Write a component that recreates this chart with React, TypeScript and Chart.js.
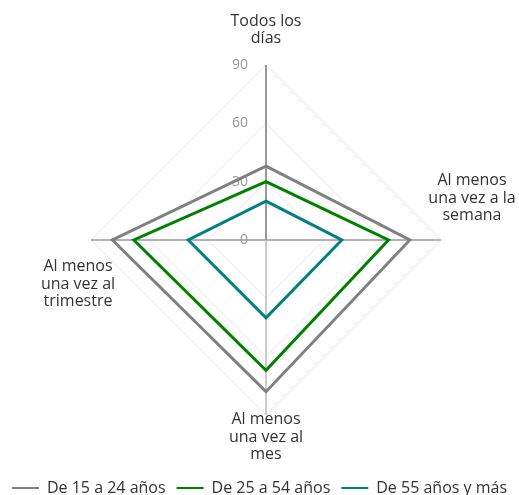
import React, { useEffect, useRef } from "react";
import { Chart, registerables } from "chart.js";

Chart.register(...registerables);

// ---- data ----
const categories: string[][] = [
  ["Todos los", "días"],
  ["Al menos", "una vez a la", "semana"],
  ["Al menos", "una vez al", "mes"],
  ["Al menos", "una vez al", "trimestre"],
];
const seriesNames = ["De 15 a 24 años", "De 25 a 54 años", "De 55 años y más"];
const values15to24 = [38, 74, 78, 79];
const values25to54 = [30, 63, 67, 68];
const values55plus = [20, 39, 40, 40];
const tickValues = [0, 30, 60, 90];

// ---- style ----
const seriesColors = ["#808080", "#008000", "#008080"];
const FONT = '"Open Sans", "DejaVu Sans", sans-serif';
const labelOffsets = [
  { dx: 0, dy: -35 },
  { dx: 31, dy: -42 },
  { dx: 0, dy: 22 },
  { dx: -13, dy: 44 },
];
const labelRoom = { left: 59, right: 45, top: 59, bottom: 47 };

const radarText = {
  id: "radarText",
  beforeDatasetsDraw(chart: any) {
    const r = chart.scales.r;
    const ctx = chart.ctx as CanvasRenderingContext2D;
    ctx.save();
    ctx.font = `14px ${FONT}`;
    ctx.fillStyle = "#999999";
    ctx.textAlign = "right";
    ctx.textBaseline = "middle";
    tickValues.forEach((v) => {
      const d = r.getDistanceFromCenterForValue(v);
      ctx.fillText(String(v), r.xCenter - 18, r.yCenter - d);
    });
    ctx.font = `16px ${FONT}`;
    ctx.fillStyle = "#333333";
    ctx.textAlign = "center";
    const lh = 17.5;
    categories.forEach((lines, i) => {
      const p = r.getPointPosition(i, r.drawingArea);
      const cx = p.x + labelOffsets[i].dx;
      const cy = p.y + labelOffsets[i].dy;
      lines.forEach((t, k) => {
        ctx.fillText(t, cx, cy + (k - (lines.length - 1) / 2) * lh);
      });
    });
    ctx.restore();
  },
};

export default function App() {
  const ref = useRef<HTMLCanvasElement | null>(null);

  useEffect(() => {
    if (!ref.current) return;
    const seriesData = [values15to24, values25to54, values55plus];
    const chart = new Chart(ref.current, {
      type: "radar",
      data: {
        labels: categories.map((c) => c.join(" ")),
        datasets: seriesNames.map((name, i) => ({
          label: name,
          data: seriesData[i],
          borderColor: seriesColors[i],
          backgroundColor: seriesColors[i],
          borderWidth: 3,
          pointRadius: 0,
          pointHoverRadius: 0,
          fill: false,
          tension: 0,
        })),
      },
      options: {
        responsive: false,
        animation: false,
        layout: { padding: { bottom: -11 } },
        plugins: {
          tooltip: { enabled: false },
          legend: {
            position: "bottom",
            labels: {
              usePointStyle: true,
              pointStyle: "line",
              pointStyleWidth: 27,
              padding: 11,
              color: "#333333",
              font: { family: FONT, size: 16 },
              generateLabels: (c: any) =>
                Chart.defaults.plugins.legend.labels
                  .generateLabels(c)
                  .map((l: any) => ({ ...l, lineWidth: 2 })),
            },
          },
        },
        scales: {
          r: {
            min: 0,
            max: 90,
            ticks: { stepSize: 30, display: false },
            pointLabels: { display: false },
            grid: { color: "#e6e6e6", lineWidth: 1, circular: false },
            angleLines: {
              color: (c: any) => (c.index === 2 ? "#cccccc" : "#999999"),
              lineWidth: (c: any) => (c.index % 2 === 0 ? 2 : 1.5),
            },
            afterFit: (s: any) => {
              s.setCenterPoint(labelRoom.left, labelRoom.right, labelRoom.top, labelRoom.bottom);
            },
          } as any,
        },
      },
      plugins: [radarText],
    });
    return () => chart.destroy();
  }, []);

  return (
    <div style={{ position: "absolute", left: 0, top: 0, width: 519, height: 495 }}>
      <canvas ref={ref} width={519} height={495} />
    </div>
  );
}
